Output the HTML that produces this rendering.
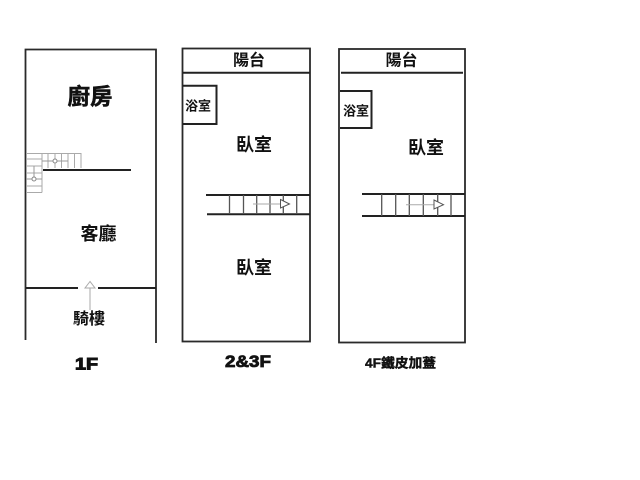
<!DOCTYPE html>
<html lang="zh-Hant">
<head>
<meta charset="utf-8">
<title>Floor plan</title>
<style>
html,body{margin:0;padding:0;background:#fff;width:640px;height:480px;overflow:hidden}
svg{display:block;filter:blur(0.35px)}
text{font-family:"Liberation Sans","Noto Sans CJK TC",sans-serif;font-weight:700;fill:#111;text-anchor:middle;dominant-baseline:central}
.w{stroke:#2a2a2a;stroke-width:1.8;fill:none}
.k{stroke:#222;stroke-width:2;fill:none}
.s{stroke:#555;stroke-width:1.3;fill:none}
.g{stroke:#aaa;stroke-width:1;fill:none}
.n{stroke:#aaa;stroke-width:1;fill:#fff}
.b{stroke:#111;stroke-width:.5;paint-order:stroke}
</style>
</head>
<body>
<svg width="640" height="480" viewBox="0 0 640 480" xmlns="http://www.w3.org/2000/svg">
<rect width="640" height="480" fill="#fff"/>

<!-- 1F -->
<path class="w" d="M25.500 340V49.500H156V343"/>
<path class="k" d="M43 170H131M26 288H78M98 288H156"/>
<path stroke="#aaa" stroke-width="1" fill="none" d="M26 153.500H42M26 159H42M26 166H42M26 173H42M26 186H42M26 192.500H42M42 153V192.500M42 153.500H81M48 153V168M55 153V168M61.500 153V168M68 153V168M74.500 153V168M81 153V168"/>
<path d="M42 161H68M34 166V179M26 179H42" stroke="#999" stroke-width="1" fill="none"/>
<circle cx="55" cy="161" r="2" fill="#fff" stroke="#888"/>
<circle cx="34" cy="179" r="2" fill="#fff" stroke="#888"/>
<path class="g" d="M90 288V310"/>
<path class="n" d="M90 281.500L85 288H95Z"/>
<text class="b" x="90" y="97" font-size="22.500">廚房</text>
<text x="98.500" y="234" font-size="18">客廳</text>
<text x="89" y="319.500" font-size="16">騎樓</text>
<text class="b" x="86.500" y="364" font-size="17" textLength="23" lengthAdjust="spacingAndGlyphs" style="stroke-width:1">1F</text>

<!-- 2&3F -->
<rect class="w" x="182.500" y="48.500" width="127.500" height="293"/>
<path class="k" d="M183 72.700H310"/>
<path class="k" d="M183 85.700H216.500V124H183"/>
<path class="k" d="M206 195H310M207 214.300H310"/>
<path class="s" d="M229.500 195V214M243.500 195V214M256.700 195V214M270 195V214M283.300 195V214M296.700 195V214"/>
<path class="g" d="M253 204H281"/>
<path stroke="#555" stroke-width="1" fill="#fff" d="M280.500 199.500L289.500 204L280.500 208Z"/>
<text x="249" y="61" font-size="16">陽台</text>
<text x="198" y="106" font-size="13">浴室</text>
<text x="254" y="145" font-size="18">臥室</text>
<text x="254" y="268" font-size="18">臥室</text>
<text class="b" x="248" y="362" font-size="16.500" textLength="46" lengthAdjust="spacingAndGlyphs" style="stroke-width:.8">2&amp;3F</text>

<!-- 4F -->
<rect class="w" x="339" y="49" width="126" height="293.500"/>
<path class="k" d="M341 72.700H463"/>
<path class="k" d="M340 91H371.500V128H340"/>
<path class="k" d="M362 194H465M362 216H465"/>
<path class="s" d="M381.700 194V216M395.700 194V216M409.300 194V216M423.300 194V216M437.700 194V216M451 194V216"/>
<path class="g" d="M406 204.700H434"/>
<path stroke="#555" stroke-width="1" fill="#fff" d="M434 200L443.500 204.700L434 209Z"/>
<text x="401.500" y="61" font-size="16">陽台</text>
<text x="356" y="111" font-size="13">浴室</text>
<text x="426" y="148" font-size="18">臥室</text>
<text class="b" x="400.500" y="363" font-size="13" textLength="71" lengthAdjust="spacingAndGlyphs" style="stroke-width:.4">4F鐵皮加蓋</text>
</svg>
</body>
</html>
